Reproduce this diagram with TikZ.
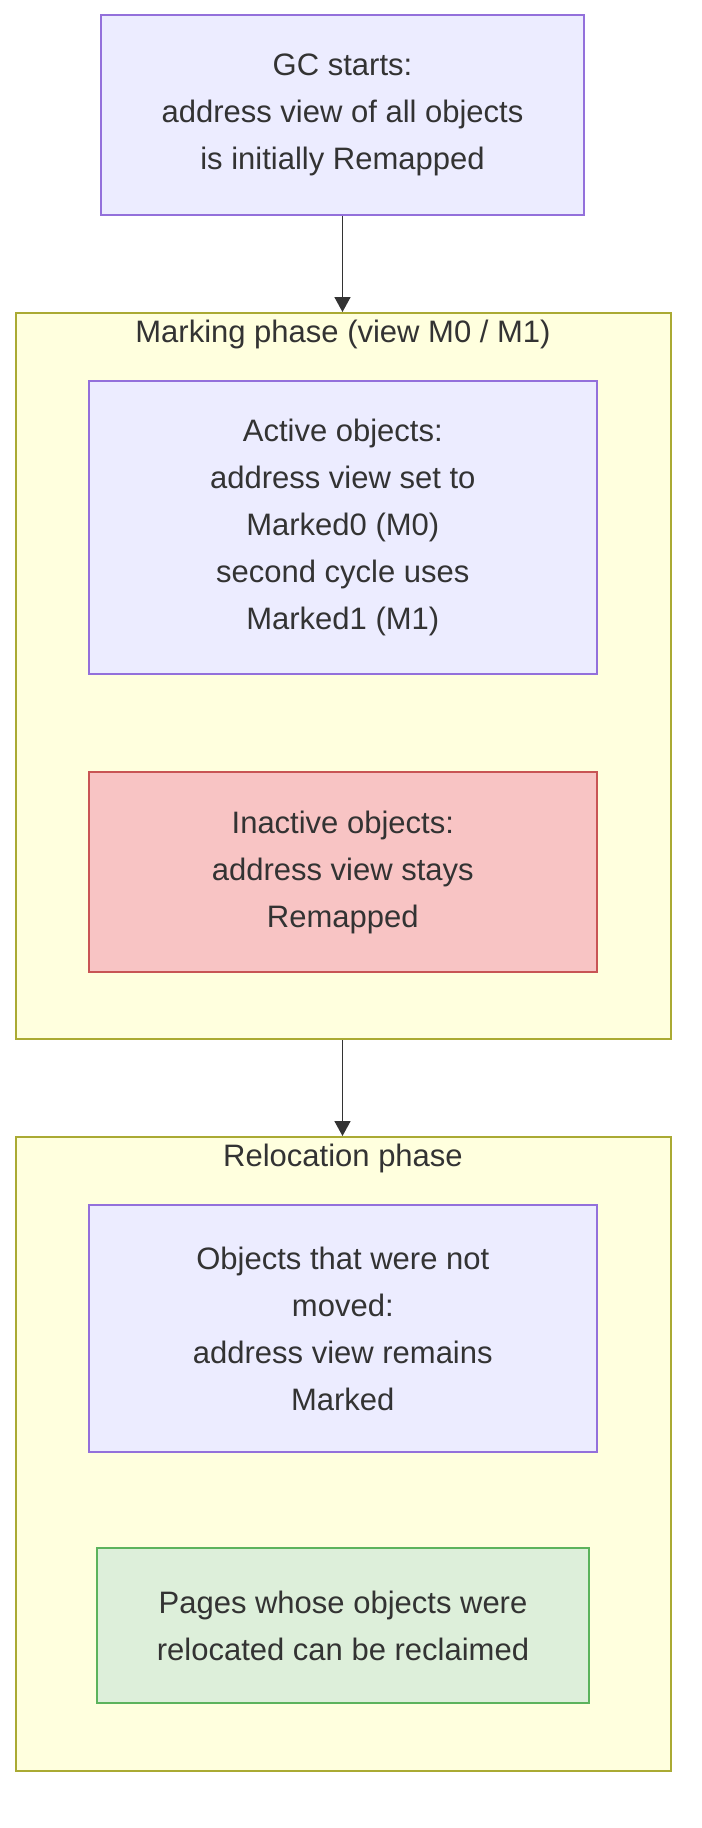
\documentclass[tikz,border=0pt]{standalone}
\usepackage{fontspec}
\setmainfont{Liberation Sans}
\usetikzlibrary{arrows.meta}
\definecolor{nodefill}{HTML}{ECECFF}
\definecolor{nodeline}{HTML}{9370DB}
\definecolor{clusterfill}{HTML}{FFFFDE}
\definecolor{clusterline}{HTML}{AAAA33}
\definecolor{redfill}{HTML}{F8C4C4}
\definecolor{redline}{HTML}{C85555}
\definecolor{greenfill}{HTML}{DDEFDA}
\definecolor{greenline}{HTML}{5CB35C}
\definecolor{ink}{HTML}{333333}

\begin{document}
\begin{tikzpicture}[x=0.5pt,y=-0.5pt,
        every node/.style={text=ink, font=\fontsize{15.5pt}{23.5pt}\selectfont, align=center, inner sep=0pt},
        box/.style={draw=nodeline, fill=nodefill, line width=1pt, minimum width=254.2pt},
        cluster/.style={draw=clusterline, fill=clusterfill, line width=1pt, minimum width=327.5pt},
        flow/.style={draw=ink, line width=0.8pt, -{Triangle[length=7.5pt,width=8pt]}}]
    \useasboundingbox (0,0) rectangle (702,1828);
    % clusters
    \node[cluster, minimum height=363pt] (marking) at (343,676) {};
    \node (markingtitle) at (343,334) {Marking phase (view M0 / M1)};
    \node[cluster, minimum height=317pt] (reloc) at (343,1454) {};
    \node (reloctitle) at (343,1158) {Relocation phase};
    % nodes
    \node[box, minimum width=241.5pt, minimum height=100pt] (start) at (342.5,115)
        {GC starts:\\address view of all objects\\is initially Remapped};
    \node[box, minimum height=146.5pt] (active) at (342.8,527.5)
        {Active objects:\\address view set to\\Marked0 (M0)\\second cycle uses\\Marked1 (M1)};
    \node[box, draw=redline, fill=redfill, minimum height=100pt] (inactive) at (342.8,872)
        {Inactive objects:\\address view stays\\Remapped};
    \node[box, minimum height=123.5pt] (kept) at (342.8,1328.5)
        {Objects that were not\\moved:\\address view remains\\Marked};
    \node[box, draw=greenline, fill=greenfill, minimum width=246pt, minimum height=77.5pt] (pages) at (343,1625.5)
        {Pages whose objects were\\relocated can be reclaimed};
    % edges
    \draw[flow] (start.south) -- (start.south |- marking.north);
    \draw[flow] (marking.south -| start.south) -- (start.south |- reloc.north);
\end{tikzpicture}
\end{document}
